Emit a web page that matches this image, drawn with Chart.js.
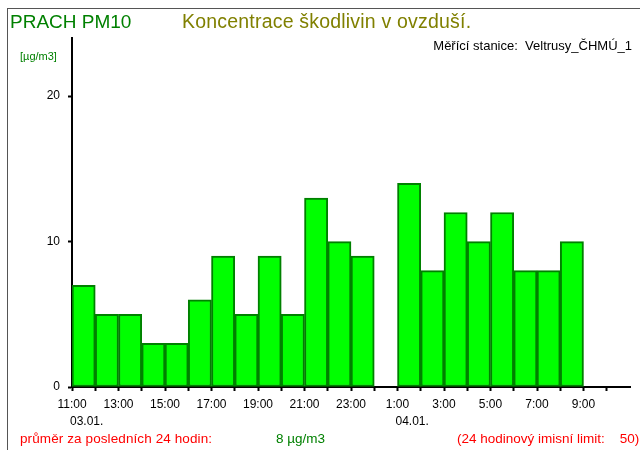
<!DOCTYPE html>
<html>
<head>
<meta charset="utf-8">
<script src="https://cdn.jsdelivr.net/npm/chart.js@4"></script>
<style>
  body { margin: 0; background: #fff; }
  #wrap { position: relative; width: 640px; height: 450px; overflow: hidden; font-family: "Liberation Sans", Arial, sans-serif; }
  #frame { position: absolute; left: 7px; top: 8px; right: -10px; bottom: -10px; border-left: 1px solid #555; border-top: 1px solid #555; }
  #chart { position: absolute; left: 0; top: 0; }
  .t { position: absolute; white-space: pre; line-height: 1; }
</style>
</head>
<body>
<div id="wrap">
  <div id="frame"></div>
  <canvas id="chart" width="640" height="450"></canvas>
  <div class="t" style="left:10px; top:12px; font-size:19px; color:#008000;">PRACH PM10</div>
  <div class="t" style="left:182px; top:12px; font-size:19.5px; letter-spacing:0.2px; color:#808000;">Koncentrace škodlivin v ovzduší.</div>
  <div class="t" style="right:8px; top:39px; font-size:13px; color:#000;">Měřící stanice:  Veltrusy_ČHMÚ_1</div>
  <div class="t" style="left:20px; top:51px; font-size:11px; color:#008000;">[µg/m3]</div>
  <div class="t" style="left:20px; top:432px; font-size:13.5px; letter-spacing:0.1px; color:#ff0000;">průměr za posledních 24 hodin:</div>
  <div class="t" style="left:276px; top:432px; font-size:13.5px; color:#008000;">8 µg/m3</div>
  <div class="t" style="left:457px; top:432px; font-size:13.5px; color:#ff0000;">(24 hodinový imisní limit:    50)</div>
</div>
<script>
// ====== Data ======
const hours = ["11:00", "12:00", "13:00", "14:00", "15:00", "16:00", "17:00", "18:00",
  "19:00", "20:00", "21:00", "22:00", "23:00", "0:00", "1:00", "2:00", "3:00", "4:00",
  "5:00", "6:00", "7:00", "8:00", "9:00", "10:00"];
const pm10 = [7, 5, 5, 3, 3, 6, 9, 5, 9, 5, 13, 10, 9, null, 14, 8, 12, 10, 12, 8, 8, 10, null, null];
const dateLabels = [{ at: 0, text: "03.01." }, { at: 14, text: "04.01." }];
const yTicks = [0, 10, 20];

// ====== Date row under hour labels ======
const datePlugin = {
  id: "dates",
  afterDraw(chart) {
    const ctx = chart.ctx;
    const xs = chart.scales.x;
    ctx.save();
    ctx.font = "12px 'Liberation Sans', Arial, sans-serif";
    ctx.fillStyle = "#000";
    ctx.textAlign = "left";
    ctx.textBaseline = "middle";
    dateLabels.forEach(d => {
      ctx.fillText(d.text, xs.getPixelForValue(d.at) - 2, xs.top + 35);
    });
    ctx.restore();
  }
};

// ====== Chart.js ======
const ctx = document.getElementById("chart").getContext("2d");

new Chart(ctx, {
  type: "bar",
  data: {
    datasets: [{
      data: pm10.map((v, i) => ({ x: i + 0.5, y: v })),
      backgroundColor: "#00ff00",
      borderColor: "#008000",
      borderWidth: 2,
      borderSkipped: false,
      barPercentage: 1,
      categoryPercentage: 1
    }]
  },
  options: {
    responsive: false,
    animation: false,
    layout: { padding: { left: 0, top: 38, right: 10, bottom: 0 } },
    plugins: { legend: { display: false }, tooltip: { enabled: false } },
    scales: {
      x: {
        type: "linear",
        offset: false,
        min: 0,
        max: hours.length,
        afterFit: s => { s.height = 63; },
        afterBuildTicks: s => {
          s.ticks = hours.map((h, i) => ({ value: i }));
        },
        border: { color: "#000", width: 2 },
        grid: { offset: false, drawOnChartArea: false, color: "#000", tickLength: 4, tickWidth: 2 },
        ticks: {
          autoSkip: false,
          maxRotation: 0,
          padding: 6,
          color: "#000",
          font: { family: "'Liberation Sans', Arial, sans-serif", size: 12 },
          callback: (v) => (v % 2 === 0 && v < hours.length - 1) ? hours[v] : ""
        }
      },
      y: {
        min: 0,
        max: 24,
        afterFit: s => { s.width = 72; },
        afterBuildTicks: s => {
          s.ticks = yTicks.map(v => ({ value: v }));
        },
        border: { color: "#000", width: 2 },
        grid: { drawOnChartArea: false, color: "#000", tickLength: 4, tickWidth: 2 },
        ticks: {
          padding: 8,
          color: "#000",
          font: { family: "'Liberation Sans', Arial, sans-serif", size: 12 }
        }
      }
    }
  },
  plugins: [datePlugin]
});
</script>
</body>
</html>
